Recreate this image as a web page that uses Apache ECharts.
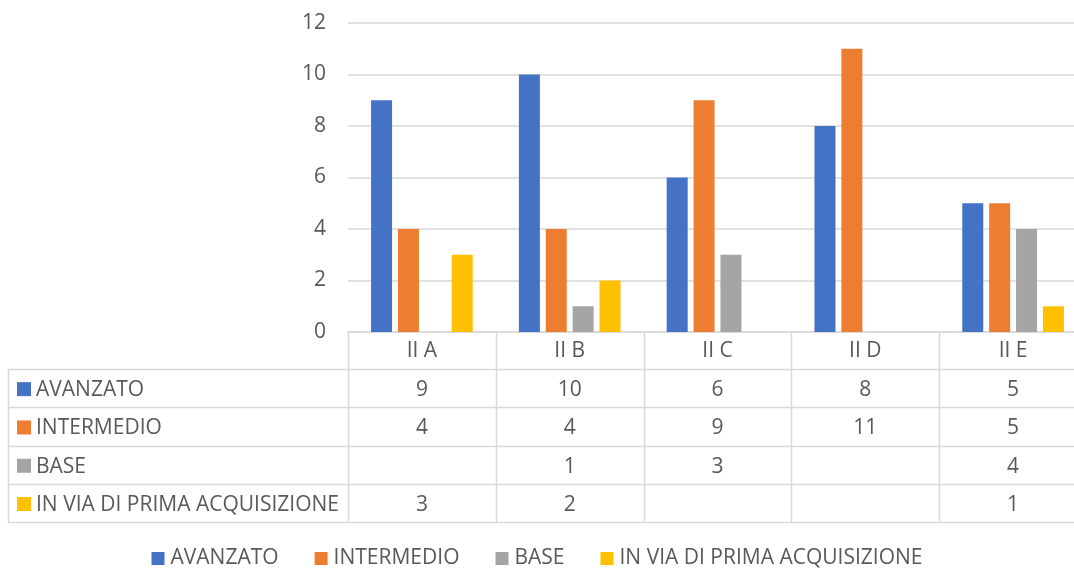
<!DOCTYPE html>
<html>
<head>
<meta charset="utf-8">
<script src="https://cdn.jsdelivr.net/npm/echarts@6/dist/echarts.min.js"></script>
<style>html,body{margin:0;padding:0;background:#fff}#c{width:1074px;height:569px}</style>
</head>
<body>
<div id="c"></div>
<script>
const categories = ['II A', 'II B', 'II C', 'II D', 'II E'];
const seriesNames = ['AVANZATO', 'INTERMEDIO', 'BASE', 'IN VIA DI PRIMA ACQUISIZIONE'];
const avanzato = [9, 10, 6, 8, 5];
const intermedio = [4, 4, 9, 11, 5];
const base = [null, 1, 3, null, 4];
const primaAcquisizione = [3, 2, null, null, 1];
const colors = ['#4472C4', '#ED7D31', '#A5A5A5', '#FFC000'];
const yTicks = { min: 0, max: 12, interval: 2 };

const allValues = [avanzato, intermedio, base, primaAcquisizione];
const FONT = '"Open Sans", sans-serif';
const FS = 21;
const TXT = '#595959';
const LINE = '#d9d9d9';

const chart = echarts.init(document.getElementById('c'), null, { renderer: 'canvas' });

const option = {
  animation: false,
  color: colors,
  textStyle: { fontFamily: FONT },
  grid: { left: 348, top: 23, height: 309, width: 739, outerBoundsMode: 'none', containLabel: false },
  xAxis: {
    type: 'category',
    data: categories,
    axisLine: { show: true, lineStyle: { color: LINE, width: 1.5 } },
    axisTick: { show: false },
    axisLabel: { show: false }
  },
  yAxis: {
    type: 'value',
    min: yTicks.min, max: yTicks.max, interval: yTicks.interval,
    axisLine: { show: false },
    axisTick: { show: false },
    axisLabel: { color: TXT, fontSize: FS, fontFamily: FONT, margin: 22 },
    splitLine: { lineStyle: { color: LINE, width: 1.5 } }
  },
  legend: {
    top: 548,
    left: 'center',
    padding: 0,
    itemWidth: 13,
    itemHeight: 13,
    itemGap: 36,
    icon: 'rect',
    data: seriesNames,
    textStyle: { color: TXT, fontSize: FS, fontFamily: FONT, padding: [0, 0, 0, 1] }
  },
  series: seriesNames.map((n, i) => ({
    name: n,
    type: 'bar',
    data: allValues[i],
    barWidth: 21,
    barGap: '28%'
  }))
};
chart.setOption(option);

// Build data table under the plot, aligned with the category axis
function buildTable() {
  const g = [];
  const centers = categories.map((c, i) => chart.convertToPixel({ xAxisIndex: 0 }, i));
  const band = centers.length > 1 ? centers[1] - centers[0] : 140;
  const y0 = chart.convertToPixel({ yAxisIndex: 0 }, 0);
  const tableLeft = 8;
  const headerH = 37;
  const rowH = 38.3;
  const rightEdge = centers[centers.length - 1] + band / 2;
  const leftCol = centers[0] - band / 2;
  const rowsTop = y0 + headerH;
  const bottom = rowsTop + rowH * seriesNames.length;
  const ls = { stroke: LINE, lineWidth: 1.5 };

  for (let r = 0; r <= seriesNames.length; r++) {
    const y = Math.round(rowsTop + r * rowH) + 0.5;
    g.push({ type: 'line', shape: { x1: tableLeft, y1: y, x2: rightEdge, y2: y }, style: ls, silent: true });
  }
  for (let i = 0; i <= categories.length; i++) {
    const x = Math.round(leftCol + i * band) + 0.5;
    g.push({ type: 'line', shape: { x1: x, y1: y0, x2: x, y2: bottom }, style: ls, silent: true });
  }
  g.push({ type: 'line', shape: { x1: tableLeft + 0.5, y1: rowsTop, x2: tableLeft + 0.5, y2: bottom }, style: ls, silent: true });

  const font = FS + 'px ' + FONT;
  categories.forEach((c, i) => {
    g.push({ type: 'text', x: centers[i], y: y0 + headerH / 2 + 1,
      style: { text: c, fill: TXT, font: font, textAlign: 'center', textVerticalAlign: 'middle' }, silent: true });
  });
  seriesNames.forEach((n, r) => {
    const cy = rowsTop + r * rowH + rowH / 2 + 2;
    g.push({ type: 'rect', shape: { x: tableLeft + 9, y: cy - 8, width: 14, height: 14 }, style: { fill: colors[r] }, silent: true });
    g.push({ type: 'text', x: tableLeft + 28, y: cy,
      style: { text: n, fill: TXT, font: font, textAlign: 'left', textVerticalAlign: 'middle' }, silent: true });
    allValues[r].forEach((v, i) => {
      if (v === null || v === undefined) return;
      g.push({ type: 'text', x: centers[i], y: cy,
        style: { text: String(v), fill: TXT, font: font, textAlign: 'center', textVerticalAlign: 'middle' }, silent: true });
    });
  });
  chart.setOption({ graphic: g });
}
buildTable();
</script>
</body>
</html>
